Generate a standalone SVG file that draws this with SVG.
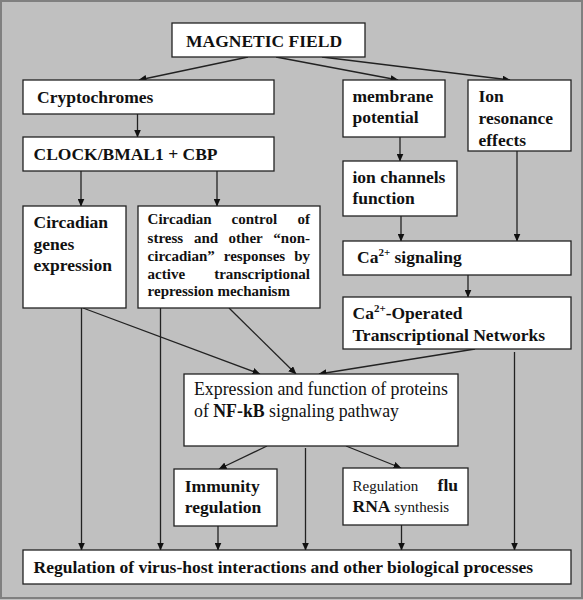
<svg xmlns="http://www.w3.org/2000/svg" width="583" height="600" viewBox="0 0 583 600">
<style>
.box{fill:#fff;stroke:#222;stroke-width:1.3}
.t{font-family:"Liberation Serif","Times New Roman",serif;font-size:17.5px;font-weight:bold;fill:#111}
.r{font-weight:normal}
.s{font-family:"Liberation Serif","Times New Roman",serif;font-size:15px;font-weight:bold;fill:#111}
.c line,.c path{stroke:#222;stroke-width:1.3;fill:none;marker-end:url(#ah)}
</style>
<defs>
<marker id="ah" markerWidth="8" markerHeight="7" refX="7.5" refY="3.5" orient="auto" markerUnits="userSpaceOnUse">
<path d="M0,0 L8,3.5 L0,7 z" fill="#111"/>
</marker>
</defs>
<rect x="0" y="0" width="583" height="600" fill="#c0c0c0"/>
<rect x="1" y="1" width="581" height="597" fill="none" stroke="#808080" stroke-width="2"/>
<g class="c" id="connectors">
<line x1="248" y1="57" x2="139" y2="80"/>
<line x1="276" y1="57" x2="398" y2="80"/>
<line x1="322" y1="57" x2="510" y2="80"/>
<line x1="137.5" y1="114" x2="137.5" y2="137"/>
<line x1="81" y1="171" x2="81" y2="206"/>
<line x1="217" y1="171" x2="217" y2="206"/>
<line x1="400" y1="137" x2="400" y2="161"/>
<line x1="401" y1="216" x2="401" y2="241"/>
<line x1="517" y1="151" x2="517" y2="241"/>
<line x1="468" y1="275" x2="468" y2="297"/>
<line x1="83" y1="308" x2="260" y2="374"/>
<line x1="81.5" y1="308" x2="81.5" y2="550"/>
<line x1="229" y1="308" x2="296" y2="374"/>
<line x1="160.5" y1="308" x2="160.5" y2="550"/>
<line x1="475" y1="349" x2="319" y2="374"/>
<line x1="514.5" y1="352" x2="514.5" y2="550"/>
<line x1="267" y1="446" x2="219" y2="469"/>
<line x1="305.5" y1="448" x2="305.5" y2="550"/>
<line x1="346" y1="446" x2="401" y2="468"/>
<line x1="218" y1="526" x2="218" y2="550"/>
<line x1="401.5" y1="525" x2="401.5" y2="550"/>
</g>
<g id="magnetic-field"><rect class="box" x="172" y="23" width="193" height="34"/><text class="t" x="186" y="46.5">MAGNETIC FIELD</text></g>
<g id="cryptochromes"><rect class="box" x="23" y="80" width="251" height="34"/><text class="t" x="37" y="103">Cryptochromes</text></g>
<g id="clock"><rect class="box" x="23" y="137" width="251" height="34"/><text class="t" x="33.5" y="160">CLOCK/BMAL1 + CBP</text></g>
<g id="membrane"><rect class="box" x="343" y="80" width="102" height="57"/><text class="t" x="352.5" y="102">membrane</text><text class="t" x="352.5" y="123">potential</text></g>
<g id="ion-resonance"><rect class="box" x="468" y="80" width="103" height="71"/><text class="t" x="478.5" y="102">Ion</text><text class="t" x="478.5" y="124">resonance</text><text class="t" x="478.5" y="145.5">effects</text></g>
<g id="ion-channels"><rect class="box" x="343" y="161" width="114" height="55"/><text class="t" x="352.5" y="183">ion channels</text><text class="t" x="352.5" y="204">function</text></g>
<g id="circadian-genes"><rect class="box" x="23" y="206" width="103" height="102"/><text class="t" x="33.5" y="228">Circadian</text><text class="t" x="33.5" y="250">genes</text><text class="t" x="33.5" y="271">expression</text></g>
<g id="circadian-control"><rect class="box" x="138" y="206" width="182" height="102"/>
<text class="s" y="224"><tspan x="147.6">Circadian</tspan><tspan x="231.5">control</tspan><tspan x="297.5">of</tspan></text>
<text class="s" y="242.5"><tspan x="147.6">stress</tspan><tspan x="193.9">and</tspan><tspan x="228.6">other</tspan><tspan x="273.3">“non-</tspan></text>
<text class="s" y="261"><tspan x="147.6">circadian”</tspan><tspan x="223.8">responses</tspan><tspan x="294.2">by</tspan></text>
<text class="s" y="278.5"><tspan x="147.6">active</tspan></text><text class="s" y="278.5" x="310" text-anchor="end">transcriptional</text>
<text class="s" x="147.6" y="296">repression mechanism</text></g>
<g id="ca-signaling"><rect class="box" x="343" y="241" width="228" height="34"/><text class="t" x="357" y="263">Ca<tspan font-size="11" dy="-7">2+</tspan><tspan dy="7"> signaling</tspan></text></g>
<g id="ca-operated"><rect class="box" x="343" y="297" width="228" height="52"/><text class="t" x="352.5" y="319">Ca<tspan font-size="11" dy="-7">2+</tspan><tspan dy="7">-Operated</tspan></text><text class="t" x="352.5" y="341">Transcriptional Networks</text></g>
<g id="nfkb"><rect class="box" x="184" y="374" width="274" height="72"/><text class="t r" x="194" y="395" style="font-size:17.8px">Expression and function of proteins</text><text class="t r" x="194" y="417" style="font-size:17.8px">of <tspan font-weight="bold">NF-kB</tspan> signaling pathway</text></g>
<g id="immunity"><rect class="box" x="174" y="469" width="103" height="57"/><text class="t" x="184.8" y="492">Immunity</text><text class="t" x="184.8" y="513">regulation</text></g>
<g id="flu"><rect class="box" x="343" y="468" width="125" height="57"/><text class="t r" x="352.5" y="491" style="font-size:15px">Regulation</text><text class="t" x="458" y="491" text-anchor="end">flu</text><text class="t" x="352.5" y="512">RNA<tspan font-weight="normal" font-size="15"> synthesis</tspan></text></g>
<g id="bottom"><rect class="box" x="23" y="550" width="548" height="34"/><text class="t" x="33.5" y="572.5">Regulation of virus-host interactions and other biological processes</text></g>
</svg>
